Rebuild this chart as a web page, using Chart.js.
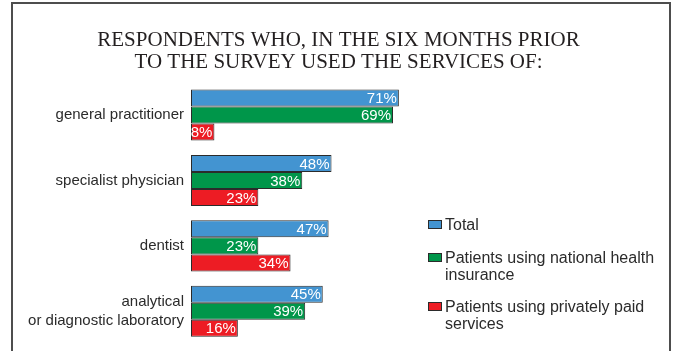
<!DOCTYPE html>
<html>
<head>
<meta charset="utf-8">
<script src="https://cdn.jsdelivr.net/npm/chart.js@4"></script>
<style>
  body { margin: 0; background: #fff; }
  .wrap { position: relative; width: 677px; height: 351px; overflow: hidden; }
  .wrap canvas { position: absolute; left: 0; top: 0; }
  .frame {
    position: absolute; left: 11px; top: 2px; width: 660px; height: 380px;
    border: 2px solid #4d4d4d; box-sizing: border-box;
  }
  .legend {
    position: absolute; left: 428px; top: 216px;
    font-family: "Liberation Sans", Arial, sans-serif; font-size: 16px;
    line-height: 17px; color: #2b2b2b;
  }
  .legend .item { display: flex; align-items: flex-start; margin-bottom: 15.5px; }
  .legend .box {
    flex: none; width: 14px; height: 9px; margin-top: 4px; margin-right: 3px;
    border: 1px solid #2b2b2b; box-sizing: border-box;
  }
</style>
</head>
<body>
<div class="wrap">
  <canvas id="servicesChart" width="677" height="351"></canvas>
  <div class="frame"></div>
  <div class="legend" id="legend"></div>
</div>
<script>
  const categories = [
    "general practitioner",
    "specialist physician",
    "dentist",
    ["analytical", "or diagnostic laboratory"],
  ];
  const totalValues = [71, 48, 47, 45];
  const nhiValues = [69, 38, 23, 39];
  const privateValues = [8, 23, 34, 16];

  const seriesNames = [
    ["Total"],
    ["Patients using national health", "insurance"],
    ["Patients using privately paid", "services"],
  ];
  const seriesColors = ["#4394d1", "#00964a", "#ed1c24"];
  const titleLines = [
    "RESPONDENTS WHO, IN THE SIX MONTHS PRIOR",
    "TO THE SURVEY USED THE SERVICES OF:",
  ];

  // white percentage text at the end of every bar
  const barValueLabels = {
    id: "barValueLabels",
    afterDatasetsDraw(chart) {
      const ctx = chart.ctx;
      ctx.save();
      ctx.font = '15px "Liberation Sans", Arial, sans-serif';
      ctx.fillStyle = "#ffffff";
      ctx.textAlign = "right";
      ctx.textBaseline = "middle";
      chart.data.datasets.forEach((ds, i) => {
        chart.getDatasetMeta(i).data.forEach((bar, j) => {
          ctx.fillText(ds.data[j] + "%", bar.x - 2, bar.y + 1);
        });
      });
      ctx.restore();
    },
  };

  const datasets = [totalValues, nhiValues, privateValues].map((values, i) => ({
    label: seriesNames[i].join(" "),
    data: values,
    backgroundColor: seriesColors[i],
    borderColor: "#2b2b2b",
    borderWidth: 1,
    borderSkipped: false,
    categoryPercentage: 0.78,
    barPercentage: 1,
  }));

  new Chart(document.getElementById("servicesChart"), {
    type: "bar",
    data: { labels: categories, datasets },
    plugins: [barValueLabels],
    options: {
      indexAxis: "y",
      responsive: false,
      animation: false,
      layout: { padding: { top: 0, bottom: 7, left: 0, right: 0 } },
      scales: {
        // the right part of the plot is left empty for the legend
        x: { display: false, min: 0, max: 166 },
        y: {
          grid: { display: false, drawTicks: false },
          border: { display: false },
          ticks: {
            padding: 7,
            color: "#2b2b2b",
            font: { family: '"Liberation Sans", Arial, sans-serif', size: 15, lineHeight: 1.27 },
          },
          afterFit(scale) {
            // fixed axis width; the two-line label must not shrink the plot
            scale.width = 191;
            scale.paddingTop = 0;
            scale.paddingBottom = 0;
          },
        },
      },
      plugins: {
        legend: { display: false },
        tooltip: { enabled: false },
        title: {
          display: true,
          text: titleLines,
          color: "#231f20",
          font: { family: '"Liberation Serif", "Times New Roman", serif', size: 21, weight: "normal", lineHeight: 1.02 },
          padding: { top: 30, bottom: 9.5 },
        },
      },
    },
  });

  const legendEl = document.getElementById("legend");
  seriesNames.forEach((lines, i) => {
    const item = document.createElement("div");
    item.className = "item";
    const box = document.createElement("span");
    box.className = "box";
    box.style.background = seriesColors[i];
    const text = document.createElement("span");
    text.innerHTML = lines.join("<br>");
    item.appendChild(box);
    item.appendChild(text);
    legendEl.appendChild(item);
  });
</script>
</body>
</html>
